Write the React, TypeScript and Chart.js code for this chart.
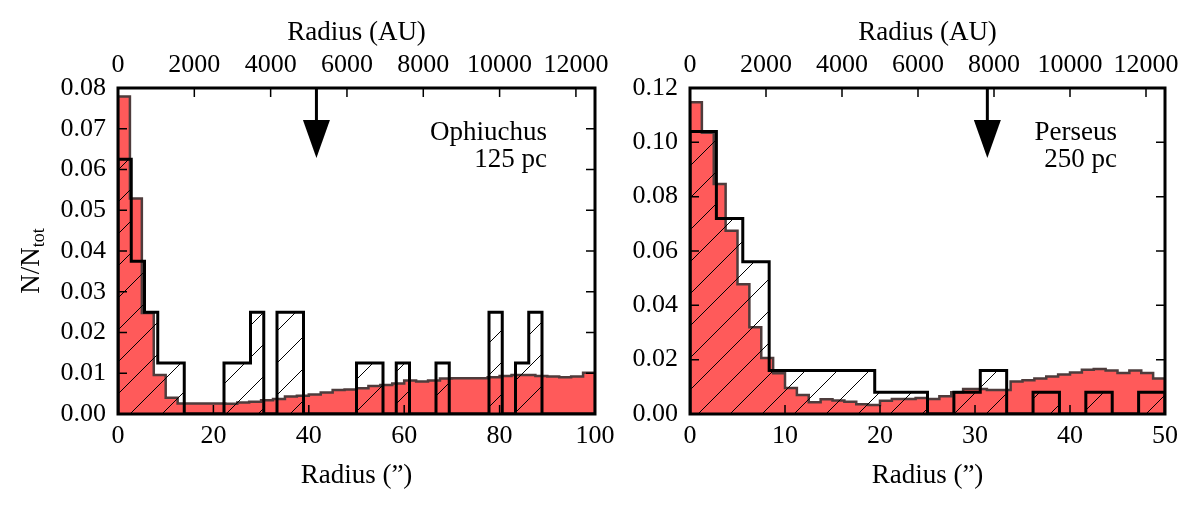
import { useEffect, useRef } from 'react';
import { Chart, registerables } from 'chart.js';

Chart.register(...registerables);

// Ophiuchus (125 pc): radius 0-100", red = 40 bins, black = 36 bins
const OPH_RANGE = [0, 100];
const OPH_RED = [
  0.0779, 0.0529, 0.0248, 0.0096, 0.004, 0.0026, 0.0026, 0.0026, 0.0026, 0.0025,
  0.0028, 0.003, 0.0034, 0.0037, 0.0043, 0.0045, 0.0048, 0.0053, 0.0059, 0.006,
  0.0063, 0.0069, 0.0071, 0.0075, 0.0082, 0.008, 0.0082, 0.0087, 0.0088, 0.0088,
  0.0088, 0.009, 0.0093, 0.0096, 0.0096, 0.0093, 0.0092, 0.009, 0.0092, 0.0101,
];
const OPH_BLACK = [
  0.0625, 0.0375, 0.025, 0.0125, 0.0125, 0, 0, 0, 0.0125, 0.0125,
  0.025, 0, 0.025, 0.025, 0, 0, 0, 0, 0.0125, 0.0125,
  0, 0.0125, 0, 0, 0.0125, 0, 0, 0, 0.025, 0,
  0.0125, 0.025, 0, 0, 0, 0,
];
const OPH_ARROW = 41.6;
const OPH_LABEL = ['Ophiuchus', '125 pc'];
const OPH_PC = 125;

// Perseus (250 pc): radius 0-50", red = 40 bins, black = 18 bins
const PER_RANGE = [0, 50];
const PER_RED = [
  0.1148, 0.1035, 0.0847, 0.0675, 0.0478, 0.0319, 0.0206, 0.015, 0.0096, 0.007,
  0.0043, 0.0054, 0.005, 0.0045, 0.0036, 0.0033, 0.0049, 0.0055, 0.0055, 0.0059,
  0.0055, 0.0065, 0.008, 0.0092, 0.0092, 0.0088, 0.0088, 0.012, 0.0124, 0.0131,
  0.0138, 0.0145, 0.0153, 0.0163, 0.0166, 0.016, 0.0151, 0.016, 0.0151, 0.0131,
];
const PER_BLACK = [
  0.104, 0.072, 0.056, 0.016, 0.016, 0.016, 0.016, 0.008, 0.008, 0,
  0.008, 0.016, 0, 0.008, 0, 0.008, 0, 0.008,
];
const PER_ARROW = 31.3;
const PER_LABEL = ['Perseus', '250 pc'];
const PER_PC = 250;

// top axis (AU) tick labels, same for both panels
const AU_TICKS = [0, 2000, 4000, 6000, 8000, 10000, 12000];
const SERIF = '"Liberation Serif", "Times New Roman", serif';

function steps(values: number[], lo: number, hi: number) {
  const w = (hi - lo) / values.length;
  const pts = [{ x: lo, y: 0 }];
  values.forEach((v, i) => pts.push({ x: lo + i * w, y: v }));
  pts.push({ x: hi, y: 0 });
  return pts;
}

function hatch(ctx: CanvasRenderingContext2D) {
  const s = 32;
  const c = document.createElement('canvas');
  c.width = s;
  c.height = s;
  const g = c.getContext('2d')!;
  g.strokeStyle = '#000';
  g.lineWidth = 1;
  g.beginPath();
  g.moveTo(0, s);
  g.lineTo(s, 0);
  g.moveTo(-2, 2);
  g.lineTo(2, -2);
  g.moveTo(s - 2, s + 2);
  g.lineTo(s + 2, s - 2);
  g.stroke();
  return ctx.createPattern(c, 'repeat')!;
}

function decor(label: string[], arrowAt: number, yTitle: boolean) {
  return {
    id: 'decor',
    afterDraw(chart: any) {
      const { ctx, chartArea: a, scales } = chart;
      ctx.save();
      ctx.strokeStyle = '#000';
      ctx.fillStyle = '#000';

      // inward ticks
      const L = 9;
      ctx.lineWidth = 1.5;
      ctx.beginPath();
      scales.x.ticks.forEach((t: any) => {
        const px = scales.x.getPixelForValue(t.value);
        ctx.moveTo(px, a.bottom);
        ctx.lineTo(px, a.bottom - L);
      });
      scales.au.ticks.forEach((t: any) => {
        const px = scales.au.getPixelForValue(t.value);
        ctx.moveTo(px, a.top);
        ctx.lineTo(px, a.top + L);
      });
      scales.y.ticks.forEach((t: any) => {
        const py = scales.y.getPixelForValue(t.value);
        ctx.moveTo(a.left, py);
        ctx.lineTo(a.left + L, py);
        ctx.moveTo(a.right, py);
        ctx.lineTo(a.right - L, py);
      });
      ctx.stroke();

      // frame
      ctx.lineWidth = 3;
      ctx.strokeRect(a.left, a.top, a.right - a.left, a.bottom - a.top);

      // arrow
      const ax = scales.x.getPixelForValue(arrowAt);
      ctx.beginPath();
      ctx.moveTo(ax, a.top);
      ctx.lineTo(ax, a.top + 34);
      ctx.stroke();
      ctx.beginPath();
      ctx.moveTo(ax - 13.5, a.top + 32);
      ctx.lineTo(ax + 13.5, a.top + 32);
      ctx.lineTo(ax, a.top + 70);
      ctx.closePath();
      ctx.fill();

      // region label
      ctx.font = `27px ${SERIF}`;
      ctx.textAlign = 'right';
      ctx.textBaseline = 'alphabetic';
      ctx.fillText(label[0], a.right - 48, a.top + 52);
      ctx.fillText(label[1], a.right - 48, a.top + 79);

      // y title N/N_tot
      if (yTitle) {
        ctx.translate(39, (a.top + a.bottom) / 2 + 10);
        ctx.rotate(-Math.PI / 2);
        ctx.textAlign = 'left';
        ctx.font = `27px ${SERIF}`;
        const w1 = ctx.measureText('N/N').width;
        ctx.font = `18px ${SERIF}`;
        const w2 = ctx.measureText('tot').width;
        const x0 = -(w1 + w2) / 2;
        ctx.font = `27px ${SERIF}`;
        ctx.fillText('N/N', x0, 0);
        ctx.font = `18px ${SERIF}`;
        ctx.fillText('tot', x0 + w1, 5);
      }
      ctx.restore();
    },
  };
}

type PanelProps = {
  left: number;
  width: number;
  axisLeft: number;
  axisRight: number;
  range: number[];
  xStep: number;
  yMax: number;
  yStep: number;
  pc: number;
  red: number[];
  black: number[];
  arrowAt: number;
  label: string[];
  yTitle: boolean;
};

function Panel(p: PanelProps) {
  const ref = useRef<HTMLCanvasElement>(null);

  useEffect(() => {
    if (!ref.current) return;
    const ctx = ref.current.getContext('2d');
    if (!ctx) return;

    const font = { family: SERIF, size: 26 };
    const titleFont = { family: SERIF, size: 27 };
    const [lo, hi] = p.range;

    const chart = new Chart(ctx, {
      type: 'line',
      data: {
        datasets: [
          {
            data: steps(p.black, lo, hi),
            borderColor: '#000',
            borderWidth: 3,
            backgroundColor: hatch(ctx),
            fill: 'origin',
            stepped: 'before',
            pointRadius: 0,
            borderJoinStyle: 'miter',
            order: 0,
          },
          {
            data: steps(p.red, lo, hi),
            borderColor: '#4e3c3c',
            borderWidth: 2.5,
            backgroundColor: '#ff5a5a',
            fill: 'origin',
            stepped: 'before',
            pointRadius: 0,
            borderJoinStyle: 'miter',
            order: 1,
          },
        ],
      },
      options: {
        animation: false,
        responsive: false,
        events: [],
        layout: { padding: 0 },
        plugins: { legend: { display: false }, tooltip: { enabled: false } },
        scales: {
          x: {
            type: 'linear',
            position: 'bottom',
            min: lo,
            max: hi,
            grid: { display: false, drawTicks: false },
            border: { display: false },
            ticks: {
              stepSize: p.xStep,
              padding: 7,
              font,
              color: '#000',
              maxRotation: 0,
              autoSkip: false,
              callback: (v: any) => String(v),
            },
            title: { display: true, text: 'Radius (\u201D)', font: titleFont, color: '#000', padding: { top: 0, bottom: 18 } },
            afterFit: (s: any) => {
              s.height = 96;
              s.paddingLeft = 0;
              s.paddingRight = 0;
            },
          },
          au: {
            type: 'linear',
            position: 'top',
            min: lo * p.pc,
            max: hi * p.pc,
            grid: { display: false, drawTicks: false },
            border: { display: false },
            ticks: {
              padding: 7,
              font,
              color: '#000',
              maxRotation: 0,
              autoSkip: false,
              callback: (v: any) => String(v),
            },
            afterBuildTicks: (s: any) => {
              s.ticks = AU_TICKS.map((v) => ({ value: v }));
            },
            title: { display: true, text: 'Radius (AU)', font: titleFont, color: '#000', padding: { top: 17, bottom: 0 } },
            afterFit: (s: any) => {
              s.height = 88;
              s.paddingLeft = 0;
              s.paddingRight = 0;
            },
          },
          y: {
            type: 'linear',
            position: 'left',
            min: 0,
            max: p.yMax,
            grid: { display: false, drawTicks: false },
            border: { display: false },
            ticks: {
              stepSize: p.yStep,
              padding: 12,
              font,
              color: '#000',
              callback: (v: any) => Number(v).toFixed(2),
            },
            afterFit: (s: any) => {
              s.width = p.axisLeft;
              s.paddingTop = 0;
              s.paddingBottom = 0;
            },
          },
          yr: {
            type: 'linear',
            position: 'right',
            min: 0,
            max: p.yMax,
            grid: { display: false, drawTicks: false },
            border: { display: false },
            ticks: { display: false },
            afterFit: (s: any) => {
              s.width = p.axisRight;
              s.paddingTop = 0;
              s.paddingBottom = 0;
            },
          },
        },
      } as any,
      plugins: [decor(p.label, p.arrowAt, p.yTitle)],
    });

    return () => chart.destroy();
  }, []);

  return (
    <canvas
      ref={ref}
      width={p.width}
      height={510}
      style={{ position: 'absolute', left: p.left, top: 0, width: p.width, height: 510 }}
    />
  );
}

export default function App() {
  useEffect(() => {
    document.body.style.margin = '0';
  }, []);

  return (
    <div style={{ position: 'relative', width: 1200, height: 510, background: '#fff' }}>
      <Panel
        left={0}
        width={640}
        axisLeft={118}
        axisRight={45}
        range={OPH_RANGE}
        xStep={20}
        yMax={0.08}
        yStep={0.01}
        pc={OPH_PC}
        red={OPH_RED}
        black={OPH_BLACK}
        arrowAt={OPH_ARROW}
        label={OPH_LABEL}
        yTitle={true}
      />
      <Panel
        left={600}
        width={600}
        axisLeft={90}
        axisRight={35}
        range={PER_RANGE}
        xStep={10}
        yMax={0.12}
        yStep={0.02}
        pc={PER_PC}
        red={PER_RED}
        black={PER_BLACK}
        arrowAt={PER_ARROW}
        label={PER_LABEL}
        yTitle={false}
      />
    </div>
  );
}
